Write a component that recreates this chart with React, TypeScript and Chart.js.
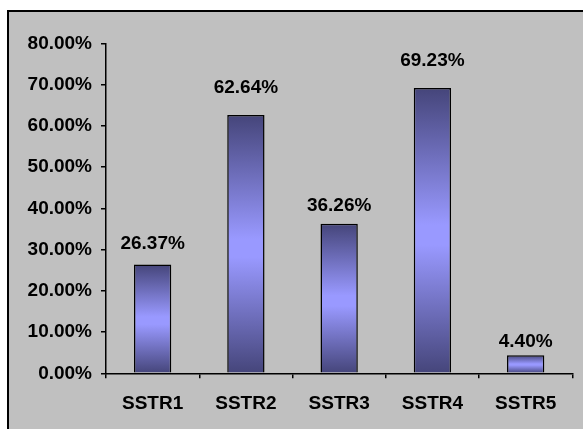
import React, { useEffect, useRef } from "react";
import { Chart, registerables } from "chart.js";

Chart.register(...registerables);

const categories = ["SSTR1", "SSTR2", "SSTR3", "SSTR4", "SSTR5"];
const values = [26.37, 62.64, 36.26, 69.23, 4.4];
const yTicks = [0, 10, 20, 30, 40, 50, 60, 70, 80];
// vertical gap (px) between each bar top and its label baseline, as placed in the original
const labelGaps = [16, 22, 13, 22, 8];

const FONT = "'Liberation Sans', Arial, sans-serif";

const barGradient = (ctx: any) => {
  const chart = ctx.chart;
  if (!chart.chartArea || !chart.scales || !chart.scales.y) return "#7777cc";
  const y = chart.scales.y;
  const v = typeof ctx.raw === "number" ? ctx.raw : 0;
  const top = y.getPixelForValue(v);
  const bot = y.getPixelForValue(0);
  if (!isFinite(top) || !isFinite(bot) || Math.abs(bot - top) < 1) return "#9999ff";
  const g = chart.ctx.createLinearGradient(0, top, 0, bot);
  g.addColorStop(0, "#45457a");
  g.addColorStop(0.48, "#9999ff");
  g.addColorStop(0.55, "#9999ff");
  g.addColorStop(1, "#45457a");
  return g;
};

const valueLabels = {
  id: "valueLabels",
  afterDatasetsDraw(chart: any) {
    const c = chart.ctx;
    const meta = chart.getDatasetMeta(0);
    c.save();
    c.font = `bold 19px ${FONT}`;
    c.fillStyle = "#000";
    c.textAlign = "center";
    c.textBaseline = "alphabetic";
    meta.data.forEach((bar: any, i: number) => {
      const v = values[i];
      c.fillText(v.toFixed(2) + "%", bar.x, bar.y - labelGaps[i]);
    });
    c.restore();
  },
};

export default function App() {
  const ref = useRef<HTMLCanvasElement | null>(null);
  useEffect(() => {
    document.body.style.overflow = "hidden";
    if (!ref.current) return;
    const chart = new Chart(ref.current, {
      type: "bar",
      data: {
        labels: categories,
        datasets: [
          {
            data: values,
            backgroundColor: barGradient,
            borderColor: "#000",
            borderWidth: 1.5,
            barPercentage: 0.4,
            categoryPercentage: 1,
          },
        ],
      },
      options: {
        responsive: false,
        animation: false,
        layout: { padding: { top: 43.5, right: 10.7, left: 0, bottom: 0 } },
        plugins: { legend: { display: false }, tooltip: { enabled: false } },
        scales: {
          x: {
            offset: true,
            grid: {
              offset: true,
              drawOnChartArea: false,
              drawTicks: true,
              tickLength: 5,
              color: "#000",
              lineWidth: 1.5,
            },
            border: { display: true, color: "#000", width: 1.5 },
            ticks: {
              color: "#000",
              font: { family: FONT, size: 19, weight: "bold" },
              padding: 14,
              maxRotation: 0,
              autoSkip: false,
            },
            afterFit: (s: any) => {
              s.height = 55.7;
            },
          },
          y: {
            min: 0,
            max: 80,
            afterBuildTicks: (s: any) => {
              s.ticks = yTicks.map((v) => ({ value: v }));
            },
            grid: {
              drawOnChartArea: false,
              drawTicks: true,
              tickLength: 5,
              color: "#000",
              lineWidth: 1.5,
            },
            border: { display: true, color: "#000", width: 1.5 },
            ticks: {
              color: "#000",
              font: { family: FONT, size: 19, weight: "bold" },
              padding: 9,
              callback: (v: any) => Number(v).toFixed(2) + "%",
            },
            afterFit: (s: any) => {
              s.width = 106;
            },
          },
        },
      },
      plugins: [valueLabels],
    });
    return () => chart.destroy();
  }, []);

  return (
    <div
      style={{
        position: "fixed",
        left: 0,
        top: 0,
        width: 583,
        height: 429,
        background: "#fff",
        overflow: "hidden",
      }}
    >
      <div
        style={{
          position: "absolute",
          left: 7,
          top: 10,
          width: 600,
          height: 440,
          background: "#c0c0c0",
          borderTop: "2px solid #000",
          borderLeft: "2px solid #000",
        }}
      />
      <canvas
        ref={ref}
        width={583}
        height={429}
        style={{ position: "absolute", left: 0, top: 0, width: 583, height: 429 }}
      />
    </div>
  );
}
